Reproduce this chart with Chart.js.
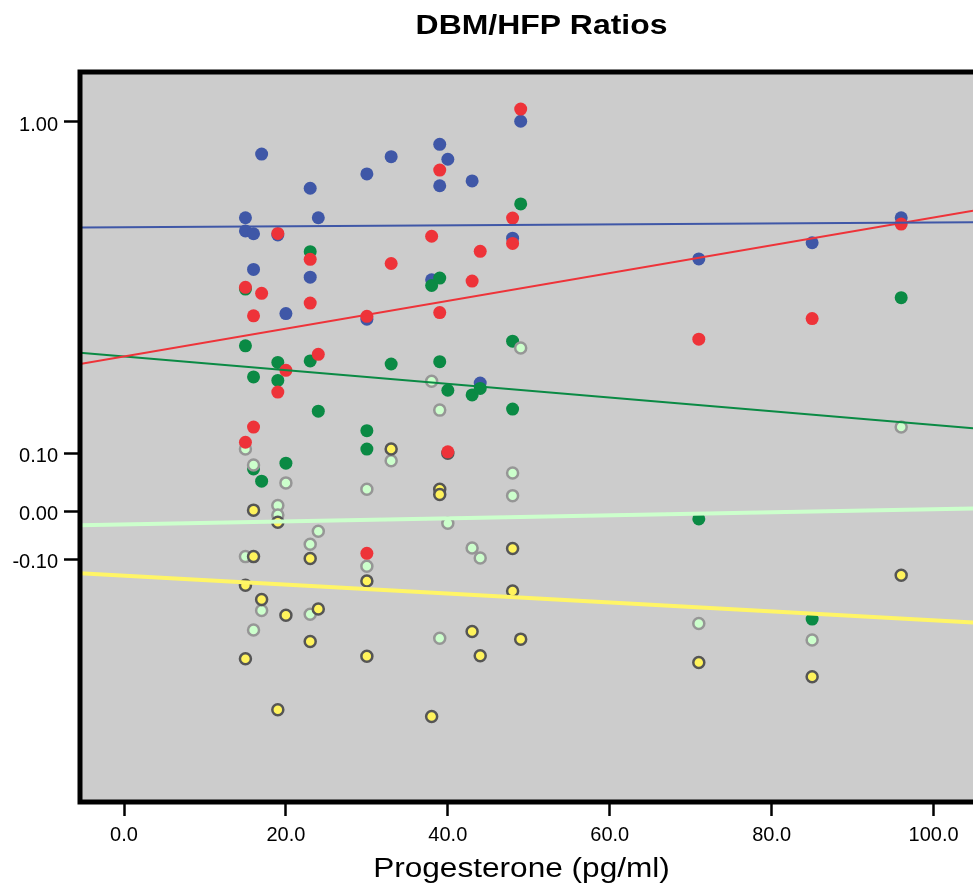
<!DOCTYPE html>
<html>
<head>
<meta charset="utf-8">
<title>DBM/HFP Ratios</title>
<script src="https://cdn.jsdelivr.net/npm/chart.js@4/dist/chart.umd.min.js"></script>
<style>
  html, body { margin: 0; padding: 0; background: #fff; overflow: hidden; }
</style>
</head>
<body>
<canvas id="chart" width="973" height="892"></canvas>
<script>
// Texte
const chartTitle = 'DBM/HFP Ratios';
const xAxisTitle = 'Progesterone (pg/ml)';

// Achsen
const xRange = [-5.435, 104.87];
const xTickValues = [0, 20, 40, 60, 80, 100];
const yTickValues = [1.0, 0.1, 0.0, -0.1];

// Messpunkte (Progesteron, Verhältnis)
const blueX = [15, 15, 16, 16, 17, 19, 20, 23, 23, 24, 30, 30, 33, 38, 39, 39, 40, 43, 44, 48, 49, 71, 85, 96];
const blueY = [0.514, 0.469, 0.460, 0.359, 0.800, 0.456, 0.264, 0.631, 0.340, 0.514, 0.697, 0.254, 0.786, 0.334,
               0.856, 0.642, 0.772, 0.664, 0.163, 0.446, 1.005, 0.386, 0.432, 0.514];

const redX = [15, 15, 16, 16, 17, 19, 19, 20, 23, 23, 24, 30, 30, 33, 38, 39, 39, 40, 43, 44, 48, 48, 49, 71, 85, 96];
const redY = [0.317, 0.108, 0.260, 0.120, 0.304, 0.461, 0.153, 0.178, 0.385, 0.284, 0.199, 0.259, -0.088, 0.374,
              0.452, 0.716, 0.266, 0.101, 0.331, 0.407, 0.513, 0.430, 1.094, 0.221, 0.255, 0.492];

const greenX = [15, 15, 16, 16, 17, 19, 19, 20, 23, 23, 24, 30, 30, 33, 38, 39, 39, 40, 43, 44, 48, 48, 49, 71, 85, 96];
const greenY = [0.313, 0.211, 0.170, 0.073, 0.052, 0.188, 0.166, 0.083, 0.406, 0.190, 0.134, 0.117, 0.103, 0.186,
                0.321, 0.338, 0.189, 0.155, 0.150, 0.157, 0.218, 0.136, 0.566, -0.016, -0.226, 0.295];

const lightX = [15, 15, 16, 16, 17, 19, 19, 20, 23, 23, 24, 30, 30, 33, 38, 39, 39, 40, 43, 44, 48, 48, 49, 71, 85, 96];
const lightY = [0.103, -0.095, 0.080, -0.249, -0.208, 0.010, -0.008, 0.049, -0.069, -0.216, -0.042, 0.038, -0.115, 0.087,
                0.165, 0.135, -0.266, -0.025, -0.077, -0.098, 0.066, 0.027, 0.208, -0.235, -0.270, 0.120];

const yellowX = [15, 15, 16, 16, 17, 19, 19, 20, 23, 23, 24, 30, 30, 33, 38, 39, 39, 40, 43, 44, 48, 48, 49, 71, 85, 96];
const yellowY = [-0.155, -0.309, 0.002, -0.095, -0.185, -0.023, -0.416, -0.218, -0.099, -0.273, -0.205, -0.146, -0.304, 0.103,
                 -0.430, 0.038, 0.029, 0.100, -0.252, -0.303, -0.078, -0.167, -0.268, -0.317, -0.347, -0.134];

// Regressionslinien: Werte am linken und rechten Rand
const fitX = xRange;
const blueFit = [0.480, 0.498];
const redFit = [0.186, 0.540];
const greenFit = [0.201, 0.119];
const lightFit = [-0.029, 0.005];
const yellowFit = [-0.130, -0.233];

// Die Achse ist oben logarithmisch, unter 0.10 linear (wie im Original)
function toPos(v) {
    if (v >= 0.1) return Math.log10(v);
    if (v >= 0) return -1 - (0.1 - v) * 1.7507;
    return -1.17507 + v * 1.4398;
}

function points(xs, ys) {
    return xs.map((x, i) => ({ x: x, y: toPos(ys[i]) }));
}

function solid(data, color, order) {
    return { data, order, pointRadius: 6.5, pointHoverRadius: 6.5, pointBorderWidth: 0,
             backgroundColor: color, borderColor: color };
}

function ringed(data, fill, ring, order) {
    return { data, order, pointRadius: 5.5, pointHoverRadius: 5.5, pointBorderWidth: 2.5,
             backgroundColor: fill, borderColor: ring };
}

function fitLine(values, color, width) {
    return { data: points(fitX, values), order: 0, showLine: true, pointRadius: 0,
             borderColor: color, borderWidth: width, fill: false };
}

const plotFrame = {
    id: 'plotFrame',
    beforeDraw(chart) {
        const { ctx, chartArea: a } = chart;
        ctx.save();
        ctx.fillStyle = '#cccccc';
        ctx.fillRect(a.left, a.top, a.right - a.left, a.bottom - a.top);
        ctx.restore();
    },
    afterDraw(chart) {
        const { ctx, chartArea: a } = chart;
        ctx.save();
        ctx.strokeStyle = '#000';
        ctx.lineWidth = 5;
        ctx.lineCap = 'square';
        ctx.beginPath();
        ctx.moveTo(a.right + 5, a.top);
        ctx.lineTo(a.left, a.top);
        ctx.lineTo(a.left, a.bottom);
        ctx.lineTo(a.right + 5, a.bottom);
        ctx.stroke();

        // Titel, leicht in die Breite gezogen wie im Original
        ctx.fillStyle = '#000';
        ctx.textAlign = 'center';
        ctx.textBaseline = 'alphabetic';
        drawWide(ctx, chartTitle, 541.5, 33.5, 'bold 28px "Liberation Sans", Arial, sans-serif', 1.14);
        drawWide(ctx, xAxisTitle, 521.5, 877, '27px "Liberation Sans", Arial, sans-serif', 1.17);
        ctx.restore();
    }
};

function drawWide(ctx, text, x, y, font, sx) {
    ctx.save();
    ctx.font = font;
    ctx.translate(x, y);
    ctx.scale(sx, 1);
    ctx.fillText(text, 0, 0);
    ctx.restore();
}

new Chart(document.getElementById('chart'), {
    type: 'scatter',
    data: {
        datasets: [
            fitLine(blueFit, '#3f57a7', 2),
            fitLine(redFit, '#ee3339', 2),
            fitLine(greenFit, '#0a8a44', 2),
            fitLine(lightFit, '#ccffcc', 4),
            fitLine(yellowFit, '#fff566', 4),
            solid(points(redX, redY), '#ee3339', 1),
            ringed(points(yellowX, yellowY), '#fff35c', '#555555', 2),
            ringed(points(lightX, lightY), '#ccffcc', '#969696', 3),
            solid(points(greenX, greenY), '#0a8a44', 4),
            solid(points(blueX, blueY), '#3f57a7', 5)
        ]
    },
    options: {
        responsive: false,
        animation: false,
        layout: { autoPadding: false, padding: { top: 72, right: 0, bottom: 0, left: 0 } },
        plugins: { legend: { display: false }, tooltip: { enabled: false }, title: { display: false } },
        scales: {
            x: {
                type: 'linear',
                min: xRange[0],
                max: xRange[1],
                afterFit: s => { s.height = 90; s.paddingLeft = 0; s.paddingRight = 0; },
                afterBuildTicks: s => { s.ticks = xTickValues.map(v => ({ value: v })); },
                border: { display: false },
                grid: { drawOnChartArea: false, drawTicks: true, tickLength: 14, tickWidth: 2.5, tickColor: '#000' },
                ticks: {
                    padding: 7,
                    color: '#000',
                    font: { family: '"Liberation Sans", Arial, sans-serif', size: 20 },
                    callback: v => Number(v).toFixed(1)
                }
            },
            y: {
                type: 'linear',
                min: -2.0525,
                max: 0.1509,
                afterFit: s => { s.width = 80; s.paddingTop = 0; s.paddingBottom = 0; },
                afterBuildTicks: s => { s.ticks = yTickValues.map(v => ({ value: toPos(v) })); },
                border: { display: false },
                grid: { drawOnChartArea: false, drawTicks: true, tickLength: 16, tickWidth: 2.5, tickColor: '#000' },
                ticks: {
                    padding: 6,
                    labelOffset: 3,
                    color: '#000',
                    font: { family: '"Liberation Sans", Arial, sans-serif', size: 20 },
                    callback: (v, i) => yTickValues[i].toFixed(2)
                }
            }
        }
    },
    plugins: [plotFrame]
});
</script>
</body>
</html>
